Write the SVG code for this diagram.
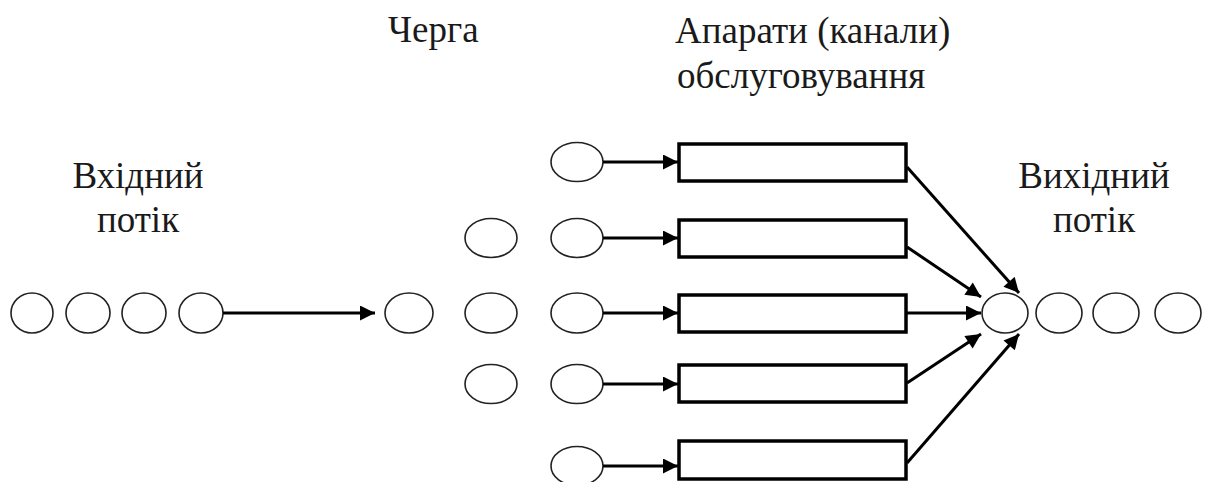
<svg xmlns="http://www.w3.org/2000/svg" width="1205" height="482" viewBox="0 0 1205 482">
  <defs>
    <marker id="arrow" viewBox="0 0 10 10" refX="10" refY="5" markerWidth="5.5" markerHeight="5" markerUnits="strokeWidth" orient="auto">
      <path d="M0,0 L10,5 L0,10 z" fill="#000"/>
    </marker>
    <style>
      .lbl { font-size: 37px; fill: #1a1a1a; }
      .req { fill: #fff; stroke: #222; stroke-width: 1.6; }
      .dev { fill: #fff; stroke: #000; stroke-width: 3.5; }
      .link { stroke: #000; stroke-width: 3; fill: none; marker-end: url(#arrow); }
    </style>
  </defs>
  <rect width="1205" height="482" fill="#fff"/>

  <!-- labels -->
  <g id="labels" font-family="'Liberation Serif', 'DejaVu Serif', serif">
    <text class="lbl" x="138" y="188" text-anchor="middle">Вхідний</text>
    <text class="lbl" x="138" y="232" text-anchor="middle">потік</text>
    <text class="lbl" x="388" y="42">Черга</text>
    <text class="lbl" x="675" y="43">Апарати (канали)</text>
    <text class="lbl" x="677" y="88">обслуговування</text>
    <text class="lbl" x="1094" y="188" text-anchor="middle">Вихідний</text>
    <text class="lbl" x="1094" y="232" text-anchor="middle">потік</text>
  </g>

  <!-- incoming flow -->
  <g id="input-flow">
    <ellipse class="req" cx="32" cy="313" rx="21" ry="20"/>
    <ellipse class="req" cx="88" cy="313" rx="22" ry="20"/>
    <ellipse class="req" cx="144" cy="313" rx="22" ry="20"/>
    <ellipse class="req" cx="201" cy="313" rx="22" ry="20"/>
  </g>

  <!-- queue -->
  <g id="queue">
    <ellipse class="req" cx="409" cy="313" rx="24" ry="20"/>
    <ellipse class="req" cx="491" cy="238" rx="26" ry="19.5"/>
    <ellipse class="req" cx="491" cy="313" rx="26" ry="20"/>
    <ellipse class="req" cx="491" cy="384" rx="26" ry="19.5"/>
  </g>

  <!-- requests in service -->
  <g id="in-service">
    <ellipse class="req" cx="577" cy="162" rx="26" ry="19.5"/>
    <ellipse class="req" cx="577" cy="238" rx="26" ry="19.5"/>
    <ellipse class="req" cx="577" cy="313" rx="26" ry="20"/>
    <ellipse class="req" cx="577" cy="384" rx="26" ry="19.5"/>
    <ellipse class="req" cx="577" cy="466" rx="26" ry="19.5"/>
  </g>

  <!-- service channels -->
  <g id="channel-1"><rect class="dev" x="679" y="144" width="227" height="37"/></g>
  <g id="channel-2"><rect class="dev" x="679" y="220" width="227" height="37"/></g>
  <g id="channel-3"><rect class="dev" x="679" y="295" width="227" height="37"/></g>
  <g id="channel-4"><rect class="dev" x="679" y="365" width="227" height="37"/></g>
  <g id="channel-5"><rect class="dev" x="679" y="441" width="227" height="38"/></g>

  <!-- outgoing flow -->
  <g id="output-flow">
    <ellipse class="req" cx="1005" cy="313" rx="23" ry="20"/>
    <ellipse class="req" cx="1059" cy="313" rx="23" ry="20"/>
    <ellipse class="req" cx="1116" cy="313" rx="23" ry="20"/>
    <ellipse class="req" cx="1178" cy="313" rx="23" ry="20"/>
  </g>

  <!-- connectors -->
  <g id="connectors">
    <line class="link" x1="223" y1="313" x2="375" y2="313"/>
    <line class="link" x1="603" y1="162" x2="678" y2="162"/>
    <line class="link" x1="603" y1="238" x2="678" y2="238"/>
    <line class="link" x1="603" y1="313" x2="678" y2="313"/>
    <line class="link" x1="603" y1="384" x2="678" y2="384"/>
    <line class="link" x1="603" y1="466" x2="678" y2="466"/>
    <line class="link" x1="907" y1="167" x2="1019" y2="293"/>
    <line class="link" x1="907" y1="247" x2="981" y2="297"/>
    <line class="link" x1="907" y1="313" x2="981" y2="313"/>
    <line class="link" x1="907" y1="383" x2="981" y2="334"/>
    <line class="link" x1="907" y1="463" x2="1019" y2="334"/>
  </g>
</svg>
